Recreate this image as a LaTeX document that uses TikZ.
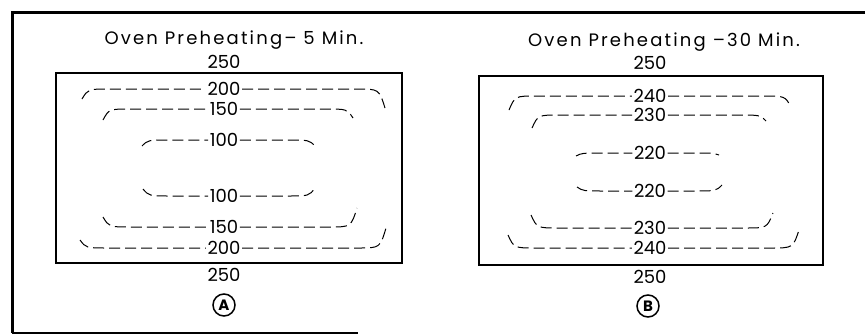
\documentclass[tikz,border=0pt]{standalone}
\usepackage{fontspec}
\setmainfont{Poppins}
\usetikzlibrary{positioning}
\tikzset{
  isoline/.style={line width=1pt, dash pattern=on 11pt off 5pt},
  lbl/.style={inner sep=1.5pt, font=\fontsize{18}{20}\selectfont},
  title/.style={font=\fontsize{18}{20}\selectfont\addfontfeature{LetterSpace=12}},
  oven/.style={line width=1.4pt},
  tag/.style={circle, draw, line width=1.5pt, inner sep=0pt, minimum size=22pt, font=\bfseries\fontsize{15}{16}\selectfont}
}

\begin{document}
\begin{tikzpicture}[x=1pt, y=-1pt]
  \useasboundingbox (0,0) rectangle (865,335);
  % frame
  \draw[line width=3pt] (12,333) -- (12,12) -- (865,12);
  \draw[line width=2pt] (12,333) -- (358,333);
  % isotherm: name, value, x, y, left end, right end
  \newcommand{\isotherm}[8]{%
    \node[lbl] (#1) at (#3,#4) {#2};
    \draw[isoline] (#5,#6) .. controls (#5+6,#4) .. (#5+28,#4) -- (#1.west);
    \draw[isoline] (#1.east) -- (#7-28,#4) .. controls (#7-6,#4) .. (#7,#8);
  }
  % A: 5 min
  \node[title] (titleA) at (234,40) {Oven Preheating– 5 Min.};
  \node[lbl] (topA) at (224,62) {250};
  \draw[oven] (56,73) rectangle (402,263);
  \node[lbl] (botA) at (224,275) {250};
  \node[tag] (tagA) at (224,305) {A};
  \isotherm{a1}{200}{224}{89}{82}{99}{385}{108}
  \isotherm{a2}{150}{224}{109}{103}{120}{353}{118}
  \isotherm{a3}{100}{224}{140}{142}{146}{315}{146}
  \isotherm{a4}{100}{224}{196}{143}{189}{315}{188}
  \isotherm{a5}{150}{224}{227}{103}{217}{357}{208}
  \isotherm{a6}{200}{224}{248}{80}{240}{386}{228}
  % B: 30 min
  \node[title] (titleB) at (664,42) {Oven Preheating –30 Min.};
  \node[lbl] (topB) at (650,63) {250};
  \draw[oven] (479,76) rectangle (823,265);
  \node[lbl] (botB) at (650,277) {250};
  \node[tag] (tagB) at (648,306) {B};
  \isotherm{b1}{240}{650}{96}{509}{110}{791}{107}
  \isotherm{b2}{230}{650}{115}{532}{128}{766}{121}
  \isotherm{b3}{220}{650}{153}{576}{156}{719}{155}
  \isotherm{b4}{220}{650}{191}{577}{187}{722}{185}
  \isotherm{b5}{230}{650}{228}{531}{215}{773}{213}
  \isotherm{b6}{240}{650}{248}{508}{235}{799}{230}
\end{tikzpicture}
\end{document}
